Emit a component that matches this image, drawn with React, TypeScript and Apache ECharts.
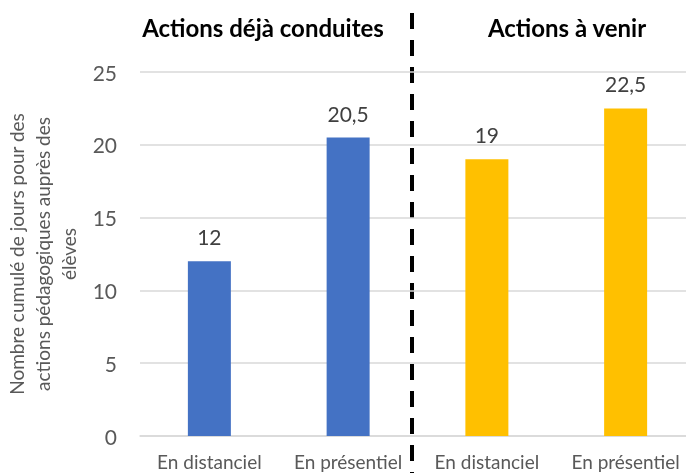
import React, { useEffect, useRef } from "react";
import * as echarts from "echarts";

const categories = ["En distanciel", "En présentiel", "En distanciel", "En présentiel"];
const doneValues = [12, 20.5, null, null];
const comingValues = [null, null, 19, 22.5];
const yTicks = { min: 0, max: 25, interval: 5 };
const groupTitles = ["Actions déjà conduites", "Actions à venir"];
const yAxisName = "Nombre cumulé de jours pour des\nactions pédagogiques auprès des\nélèves";

const FONT = "Lato, 'Open Sans', sans-serif";

export default function App() {
  const ref = useRef<HTMLDivElement>(null);
  useEffect(() => {
    if (!ref.current) return;
    const chart = echarts.init(ref.current, undefined, { renderer: "svg" });
    const labelFmt = (p: any) => String(p.value).replace(".", ",");
    chart.setOption({
      animation: false,
      grid: { left: 140, top: 72, width: 555, bottom: 37, containLabel: false, outerBoundsMode: "none" },
      xAxis: {
        type: "category",
        data: categories,
        axisLine: { lineStyle: { color: "#d9d9d9", width: 1.5 } },
        axisTick: { show: false },
        axisLabel: { color: "#595959", fontSize: 19, fontFamily: FONT, margin: 16, interval: 0 },
      },
      yAxis: {
        type: "value",
        min: yTicks.min,
        max: yTicks.max,
        interval: yTicks.interval,
        axisLine: { show: false },
        axisTick: { show: false },
        axisLabel: { color: "#595959", fontSize: 21, fontFamily: FONT, margin: 23 },
        splitLine: { lineStyle: { color: "#d9d9d9", width: 1.5 } },
        name: yAxisName,
        nameLocation: "middle",
        nameRotate: 90,
        nameGap: 49,
        nameTextStyle: { color: "#595959", fontSize: 19, fontFamily: FONT, lineHeight: 26, align: "center" },
      },
      series: [
        {
          type: "bar",
          data: doneValues,
          barWidth: 43,
          barGap: "-100%",
          itemStyle: { color: "#4472C4" },
          label: { show: true, position: "top", distance: 14, color: "#404040", fontSize: 21, fontFamily: FONT, formatter: labelFmt },
        },
        {
          type: "bar",
          data: comingValues,
          barWidth: 43,
          barGap: "-100%",
          itemStyle: { color: "#FFC000" },
          label: { show: true, position: "top", distance: 14, color: "#404040", fontSize: 21, fontFamily: FONT, formatter: labelFmt },
        },
      ],
      graphic: [
        {
          type: "line",
          shape: { x1: 412, y1: 13, x2: 412, y2: 473 },
          style: { stroke: "#000", lineWidth: 4, lineDash: [16, 11] },
        },
        {
          type: "text",
          x: 263,
          y: 27,
          style: { text: groupTitles[0], font: `bold 24px ${FONT}`, fill: "#000", align: "center", verticalAlign: "middle" },
        },
        {
          type: "text",
          x: 567,
          y: 27,
          style: { text: groupTitles[1], font: `bold 24px ${FONT}`, fill: "#000", align: "center", verticalAlign: "middle" },
        },
      ],
    });
    return () => chart.dispose();
  }, []);
  return <div ref={ref} style={{ position: "fixed", left: 0, top: 0, width: 686, height: 473 }} />;
}
